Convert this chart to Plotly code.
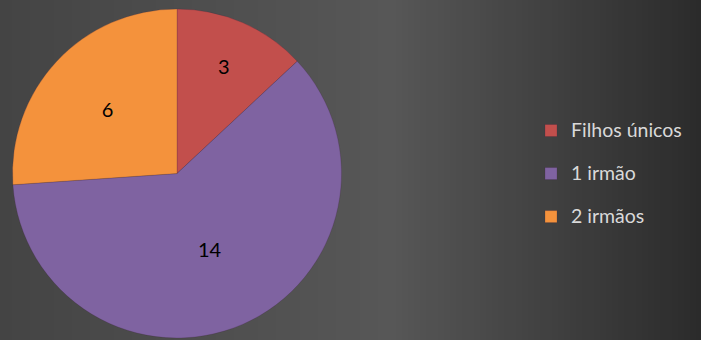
import plotly.graph_objects as go

# ---- data ----
categories = ["Filhos únicos", "1 irmão", "2 irmãos"]
counts = [3, 14, 6]
slice_colors = ["#c24f4c", "#7f63a1", "#f4923c"]

W, H = 701, 340

# legend labels: styled text plus an empty second line (keeps entries spaced like the original)
legend_labels = ['<span style="font-size:19.5px">%s</span><br> ' % c for c in categories]

fig = go.Figure()
fig.add_trace(go.Pie(
    labels=legend_labels,
    values=counts,
    sort=False,
    direction="clockwise",
    rotation=0,
    marker=dict(colors=slice_colors, line=dict(color="rgba(60,30,60,0.35)", width=0.6)),
    textinfo="value",
    textposition="inside",
    insidetextorientation="horizontal",
    textfont=dict(family="Lato, Open Sans, sans-serif", size=20, color="#000000"),
    domain=dict(x=[12 / W, 342 / W], y=[2 / H, 331 / H]),
    hoverinfo="label+value",
))

# background gradient (horizontal), drawn as thin strips
def bg_level(px):
    stops = [(0, 0x44), (390, 0x57), (701, 0x2b)]
    for (x0, v0), (x1, v1) in zip(stops[:-1], stops[1:]):
        if x0 <= px <= x1:
            t = (px - x0) / (x1 - x0)
            return int(round(v0 + (v1 - v0) * t))
    return stops[-1][1]

shapes = []
step = 6
for px in range(0, W, step):
    v = bg_level(px + step / 2)
    shapes.append(dict(
        type="rect", xref="paper", yref="paper", layer="below",
        x0=px / W, x1=min(px + step + 1, W) / W, y0=0, y1=1,
        fillcolor="rgb(%d,%d,%d)" % (v, v, v), line=dict(width=0),
    ))

fig.update_layout(
    width=W, height=H,
    margin=dict(l=0, r=0, t=0, b=0),
    paper_bgcolor="#444444",
    plot_bgcolor="rgba(0,0,0,0)",
    shapes=shapes,
    showlegend=True,
    legend=dict(
        x=531 / W, xanchor="left",
        y=(H - 184) / H, yanchor="middle",
        valign="top",
        font=dict(family="Lato, Open Sans, sans-serif", size=15.4, color="#d9d9d9"),
        bgcolor="rgba(0,0,0,0)",
        itemclick=False, itemdoubleclick=False,
    ),
)

fig.write_html(
    "out.html",
    config={"displayModeBar": False},
    post_script="document.body.style.margin='0';document.body.style.padding='0';"
                "document.body.style.overflow='hidden';document.body.style.background='#444';",
)
